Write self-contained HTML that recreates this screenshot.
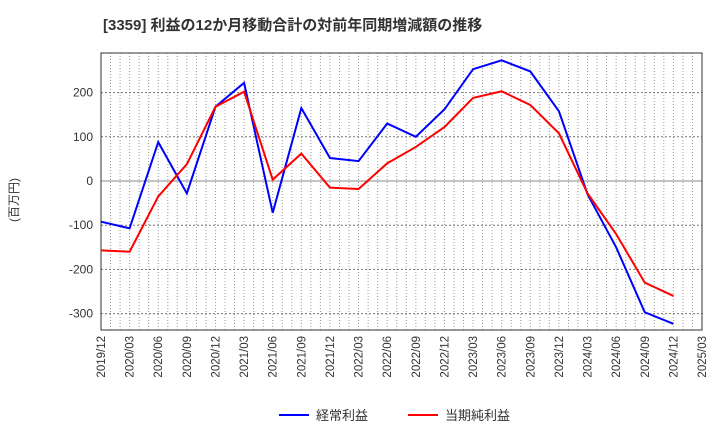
<!DOCTYPE html>
<html><head><meta charset="utf-8"><style>
body{margin:0;background:#fff;font-family:"Liberation Sans","Noto Sans CJK JP",sans-serif;}
</style></head><body>
<svg id="c" width="720" height="440" xmlns="http://www.w3.org/2000/svg">
<text x="103" y="30" font-size="15" font-weight="bold" fill="#333">[3359]  利益の12か月移動合計の対前年同期増減額の推移</text>
<text transform="translate(18,200) rotate(-90)" font-size="12" fill="#333" text-anchor="middle">(百万円)</text>
<g id="grid"></g><g id="axes"></g><g id="series"></g>
<g>
<line x1="279" y1="415" x2="309" y2="415" stroke="#0000ff" stroke-width="2"/>
<text x="316" y="420" font-size="13" fill="#333">経常利益</text>
<line x1="408" y1="415" x2="438" y2="415" stroke="#ff0000" stroke-width="2"/>
<text x="445" y="420" font-size="13" fill="#333">当期純利益</text>
</g>
</svg>
<script>
const categories=["2019/12","2020/03","2020/06","2020/09","2020/12","2021/03","2021/06","2021/09","2021/12","2022/03","2022/06","2022/09","2022/12","2023/03","2023/06","2023/09","2023/12","2024/03","2024/06","2024/09","2024/12","2025/03"];
const keijoValues=[-92,-107,88,-28,168,222,-72,165,52,45,130,100,162,253,273,248,158,-30,-150,-297,-323];
const junriekiValues=[-157,-160,-35,38,168,202,3,62,-15,-18,40,77,122,188,203,172,108,-28,-120,-230,-260];
const yTicks=[-300,-200,-100,0,100,200];
const L=101,R=702,T=53,B=330;
const xs=i=>L+(R-L)*i/(categories.length-1);
const ys=v=>181-v*0.442;
const NS="http://www.w3.org/2000/svg";
function mk(t,a,p){const e=document.createElementNS(NS,t);for(const k in a)e.setAttribute(k,a[k]);p.appendChild(e);return e;}
const grid=document.getElementById('grid'),axes=document.getElementById('axes'),ser=document.getElementById('series');
for(let m=1;m<63;m++){const x=L+(R-L)*m/63;const l=mk('line',{x1:x,x2:x,y1:T,y2:B,stroke:'#999','stroke-width':1,'stroke-dasharray':'1,2'},grid);

}
yTicks.forEach(v=>{const y=ys(v);const l=mk('line',{x1:L,x2:R,y1:y,y2:y,stroke:v===0?'#888':'#777','stroke-width':1,'stroke-dasharray':v===0?'':'2,2'},grid);


const t=mk('text',{x:L-8,y:y+4,'font-size':12,fill:'#333','text-anchor':'end'},axes);t.textContent=v;

});
const f=mk('rect',{x:L,y:T,width:R-L,height:B-T,fill:'none',stroke:'#333','stroke-width':1},axes);


categories.forEach((c,i)=>{const x=xs(i);const t=mk('text',{transform:`translate(${x+4},${B+6}) rotate(-90)`,'font-size':11.5,fill:'#333','text-anchor':'end'},axes);t.textContent=c;

});
function line(vals,col,name){const p=mk('polyline',{points:vals.map((v,i)=>xs(i)+','+ys(v)).join(' '),fill:'none',stroke:col,'stroke-width':2},ser);

}
line(keijoValues,'#0000ff','series-keijo-rieki');
line(junriekiValues,'#ff0000','series-touki-junrieki');
</script>
</body></html>
